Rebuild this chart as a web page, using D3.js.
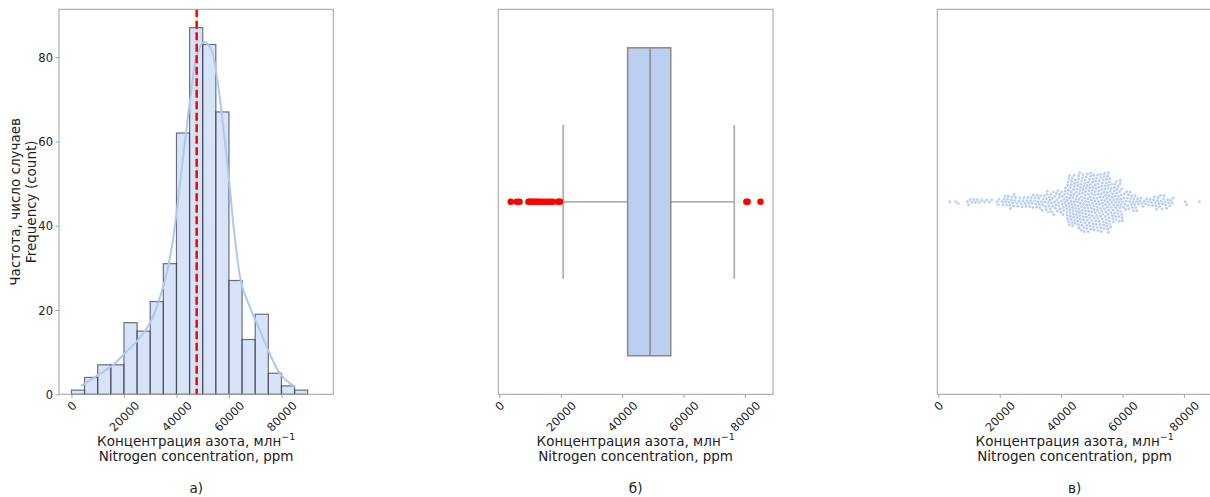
<!DOCTYPE html>
<html><head><meta charset="utf-8">
<script src="https://cdn.jsdelivr.net/npm/d3@7"></script>
<style>
body{margin:0;background:#fff}
svg text{font-family:"DejaVu Sans",sans-serif;fill:#222}
.tk{font-size:11.5px}
.lb{font-size:13.5px}
</style>
</head><body><svg id="c" width="1210" height="497"></svg>
<script>
// ---------- data ----------
const binEdges = [0,5000,10000,15000,20000,25000,30000,35000,40000,45000,50000,55000,60000,65000,70000,75000,80000,85000,90000,95000];
const histCounts = [1,4,7,7,17,15,22,31,62,87,83,67,27,13,19,5,2,1,0];
const kdeX = [3720,9500,15900,20900,25400,29800,33200,36400,38500,40000,43200,45700,47600,50400,53300,55200,57100,60300,62000,64750,67900,71700,75500,79350,83150,85100];
const kdeY = [2.0,4.3,7.0,10.1,12.9,16.8,22.0,29.0,36.0,42.9,59.9,72.2,80.1,83.6,81.7,76.1,67.4,49.2,38.5,26.3,20.8,15.3,9.7,5.0,2.6,1.8];
const meanNitrogen = 47700;
const boxQuartiles = [41800, 49100, 55850];   // Q1, median, Q3
const whiskerEnds = [20800, 76540];
const xTicks = [0,20000,40000,60000,80000];
const yTicks = [0,20,40,60,80];
const panelLetters = ["а)","б)","в)"];
const xLabel1 = "Концентрация азота, млн";
const xLabel2 = "Nitrogen concentration, ppm";
const yLabel1 = "Частота, число случаев";
const yLabel2 = "Frequency (count)";
const samples = [
3720,
5670,6540,9480,9800,
10300,10900,11500,12100,12700,13300,14100,
15000,15800,16600,17400,19100,19500,19800,
20800,21100,21400,21700,21900,22200,22500,22800,23000,23300,23500,23800,24000,24200,24500,24700,24900,
25200,25500,25900,26300,26600,27000,27300,27600,27900,28300,28600,28900,29200,29500,29800,
30100,30300,30600,30800,31000,31300,31500,31700,32000,32200,32400,32700,32900,33100,33300,33600,33800,34000,34200,34500,34700,34900,
35100,35250,35400,35520,35700,35860,36000,36170,36350,36500,36680,36850,37000,37160,37330,37480,37650,37820,37990,38150,38300,38460,38620,38800,38950,39100,39270,39420,39580,39730,39890,
40050,40180,40310,40430,40570,40690,40830,40950,41090,41210,41360,41470,41620,41740,
41810,41880,41930,42010,42060,42140,42190,42270,42320,42400,
42450,42530,42580,42660,42710,42790,42840,42920,42970,43050,
43100,43180,43230,43310,43360,43440,43490,43570,43620,43700,
43750,43830,43880,43960,44010,44090,44140,44220,44270,44350,
44400,44480,44530,44610,44660,44740,44800,44880,
45030,45080,45160,45200,45250,45330,45370,45420,45500,45550,
45590,45670,45720,45770,45840,45880,45950,46020,46050,46130,
46170,46250,46290,46340,46420,46460,46530,46580,46640,46710,
46750,46820,46860,46940,46980,47050,47090,47170,47200,47280,
47320,47400,47440,47490,47570,47610,47680,47720,47800,47850,
47890,47970,48010,48090,48130,48200,48240,48320,48350,48430,
48480,48530,48600,48650,48720,48760,48830,48870,48950,48990,
49060,49110,49170,49230,49270,49350,49390,49460,49500,49580,
49620,49690,49730,49800,49850,49910,49980,
50020,50100,50140,50210,50260,50340,50380,50450,50500,50580,
50620,50690,50740,50820,50860,50930,50990,51040,51110,51160,
51240,51280,51350,51400,51480,51520,51590,51640,51720,51760,
51830,51880,51960,52000,52070,52120,52200,52240,52310,52360,
52440,52480,52550,52600,52680,52720,52790,52840,52920,52960,
53030,53080,53160,53200,53270,53320,53400,53440,53510,53560,
53640,53680,53750,53800,53880,53920,53990,54040,54120,54160,
54230,54280,54360,54400,54470,54520,54600,54640,54710,54760,
54840,54890,54960,
55010,55060,55110,55170,55210,55270,55320,55360,55420,55470,
55530,55570,55620,55680,55720,55770,55830,
55880,55970,56040,56130,56220,56290,56380,56470,56540,56630,
56710,56790,56880,56970,57040,57130,57220,57290,57380,57460,
57540,57630,57720,57790,57880,57970,58040,58130,58210,58290,
58380,58470,58540,58630,58720,58790,58880,58960,59040,59130,
59210,59290,59380,59470,59540,59630,59720,59790,59880,59960,
60080,60260,60450,60650,60820,61000,61200,61370,61560,61760,61930,62110,62310,62480,62670,62870,63040,63220,63420,63590,63780,63980,64150,64330,64530,64700,64890,
65200,65600,66000,66400,66700,67100,67500,67900,68300,68600,69000,69400,69800,
70100,70400,70600,70900,71100,71400,71600,71900,72100,72400,72600,72900,73100,73400,73600,73900,74100,74400,74700,
75100,75400,75800,76200,76540,
80500,80900,
85100
];

// ---------- layout ----------
const svg = d3.select("#c");
const TOP = 9.3, BOT = 394.3;
const P = [{x0:59,x1:333.3},{x0:498.3,x1:773},{x0:937.3,x1:1212}];
const baseColor = "#aec8f2";
const spine = "#a0a0a0";
const TICK_FS = 11.5;

function frame(p){
  svg.append("rect").attr("x",p.x0).attr("y",TOP).attr("width",p.x1-p.x0).attr("height",BOT-TOP)
    .attr("fill","none").attr("stroke",spine).attr("stroke-width",1);
}

function xAxis(scale){
  const g = svg.append("g").attr("transform",`translate(0,${BOT})`)
    .call(d3.axisBottom(scale).tickValues(xTicks).tickSize(3.5).tickPadding(0).tickFormat(d3.format("d")));
  g.attr("font-size",null).attr("font-family",null);
  g.select(".domain").remove();
  g.selectAll(".tick line").attr("stroke",spine);
  g.selectAll(".tick text").attr("class","tk").attr("y",null).attr("dy",null)
    .attr("text-anchor","middle").attr("dominant-baseline","central")
    .each(function(){
      const w = this.getComputedTextLength();
      const h = TICK_FS*1.05;
      const rh = (w+h)*Math.SQRT1_2;
      d3.select(this).attr("transform",`translate(0,${3.5+1.5+rh/2}) rotate(-45)`);
    });
}

function xLabels(p, i){
  const cx = (p.x0+p.x1)/2;
  const t1 = svg.append("text").attr("class","lb").attr("x",cx).attr("y",445.5).attr("text-anchor","middle");
  t1.append("tspan").text(xLabel1);
  t1.append("tspan").attr("dy",-5.5).attr("font-size","9.5px").text("−1");
  svg.append("text").attr("class","lb").attr("x",cx).attr("y",461).attr("text-anchor","middle").text(xLabel2);
  svg.append("text").attr("class","lb").attr("x",cx).attr("y",493).attr("text-anchor","middle").text(panelLetters[i]);
}

// ---------- panel a: histogram ----------
{
  const p = P[0];
  const span = binEdges[binEdges.length-1]-binEdges[0];
  const x = d3.scaleLinear().domain([binEdges[0]-0.05*span, binEdges[binEdges.length-1]+0.05*span]).range([p.x0,p.x1]);
  const y = d3.scaleLinear().domain([0, d3.max(histCounts)*1.05]).range([BOT,TOP]);
  const bars = histCounts.map((c,i)=>({x0:binEdges[i],x1:binEdges[i+1],c}));
  svg.append("g").selectAll("rect").data(bars).join("rect")
    .attr("x",d=>x(d.x0)).attr("width",d=>x(d.x1)-x(d.x0))
    .attr("y",d=>y(d.c)).attr("height",d=>BOT-y(d.c))
    .attr("fill",baseColor).attr("fill-opacity",0.5)
    .attr("stroke","#2a2a35").attr("stroke-opacity",0.65).attr("stroke-width",1.2);
  const kde = kdeX.map((v,i)=>[v,kdeY[i]]);
  svg.append("path").datum(kde)
    .attr("d",d3.line().x(d=>x(d[0])).y(d=>y(d[1])).curve(d3.curveCatmullRom.alpha(0.5)))
    .attr("fill","none").attr("stroke",baseColor).attr("stroke-width",2);
  svg.append("line").attr("x1",x(meanNitrogen)).attr("x2",x(meanNitrogen)).attr("y1",TOP).attr("y2",BOT)
    .attr("stroke","#ff0000").attr("stroke-width",2.5).attr("stroke-dasharray","8,3.5");
  frame(p);
  xAxis(x);
  const gy = svg.append("g").attr("transform",`translate(${p.x0},0)`)
    .call(d3.axisLeft(y).tickValues(yTicks).tickSize(3.5).tickPadding(2.5));
  gy.attr("font-size",null).attr("font-family",null);
  gy.select(".domain").remove();
  gy.selectAll(".tick line").attr("stroke",spine);
  gy.selectAll(".tick text").attr("class","tk").attr("dy","0.36em");
  const cy = (TOP+BOT)/2;
  svg.append("text").attr("class","lb").attr("transform",`translate(20,${cy}) rotate(-90)`).attr("text-anchor","middle").text(yLabel1);
  svg.append("text").attr("class","lb").attr("transform",`translate(36,${cy}) rotate(-90)`).attr("text-anchor","middle").text(yLabel2);
  xLabels(p,0);
}

// shared x scale for b and c
const ext = d3.extent(samples);
const m = 0.05*(ext[1]-ext[0]);
const yCat = d3.scaleLinear().domain([0.5,-0.5]).range([TOP,BOT]);

// ---------- panel b: box plot ----------
{
  const p = P[1];
  const x = d3.scaleLinear().domain([ext[0]-m, ext[1]+m]).range([p.x0,p.x1]);
  const [q1,med,q3] = boxQuartiles;
  const [wl,wh] = whiskerEnds;
  const wc = "#b0b0b0", bc = "#8a8a8a";
  const yc = yCat(0);
  svg.append("line").attr("x1",x(wl)).attr("x2",x(q1)).attr("y1",yc).attr("y2",yc).attr("stroke",wc).attr("stroke-width",1.8);
  svg.append("line").attr("x1",x(q3)).attr("x2",x(wh)).attr("y1",yc).attr("y2",yc).attr("stroke",wc).attr("stroke-width",1.8);
  [wl,wh].forEach(v=>svg.append("line").attr("x1",x(v)).attr("x2",x(v)).attr("y1",yCat(-0.2)).attr("y2",yCat(0.2)).attr("stroke",wc).attr("stroke-width",1.8));
  svg.append("rect").attr("x",x(q1)).attr("width",x(q3)-x(q1)).attr("y",yCat(0.4)).attr("height",yCat(-0.4)-yCat(0.4))
    .attr("fill","#bccff0").attr("stroke",bc).attr("stroke-width",1.5);
  svg.append("line").attr("x1",x(med)).attr("x2",x(med)).attr("y1",yCat(0.4)).attr("y2",yCat(-0.4)).attr("stroke",bc).attr("stroke-width",1.5);
  const outl = samples.filter(v=>v<wl||v>wh);
  svg.append("g").selectAll("circle").data(outl).join("circle")
    .attr("cx",d=>x(d)).attr("cy",yc).attr("r",3.3).attr("fill","#ff0000");
  frame(p);
  xAxis(x);
  xLabels(p,1);
}

// ---------- panel c: swarm ----------
{
  const p = P[2];
  const x = d3.scaleLinear().domain([ext[0]-m, ext[1]+m]).range([p.x0,p.x1]);
  const yc = yCat(0);
  const D = 3.25;
  const pts = samples.map(v=>({px:x(v)})).sort((a,b)=>a.px-b.px);
  const placed = [];
  pts.forEach(pt=>{
    const nb = placed.filter(q=>Math.abs(q.px-pt.px)<D);
    const cand = [0];
    nb.forEach(q=>{
      const dy = Math.sqrt(Math.max(0,D*D-(q.px-pt.px)**2));
      cand.push(q.dy+dy, q.dy-dy);
    });
    cand.sort((a,b)=>Math.abs(a)-Math.abs(b));
    let chosen = cand[cand.length-1];
    for(const c of cand){
      if(nb.every(q=>(q.px-pt.px)**2+(q.dy-c)**2 >= D*D-1e-6)){chosen=c;break;}
    }
    pt.dy = chosen;
    placed.push(pt);
  });
  svg.append("g").selectAll("circle").data(placed).join("circle")
    .attr("cx",d=>d.px).attr("cy",d=>yc+d.dy).attr("r",1.45).attr("fill","#bcd0f5");
  frame(p);
  xAxis(x);
  xLabels(p,2);
}
</script>
</body></html>
